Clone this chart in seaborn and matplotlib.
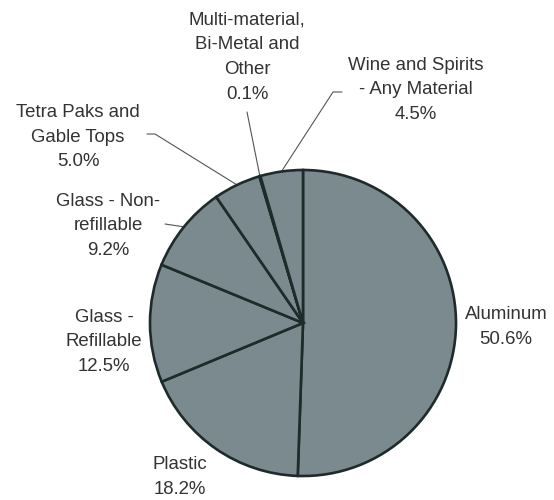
import matplotlib
matplotlib.use("Agg")
import matplotlib.pyplot as plt
import seaborn as sns
import numpy as np

# ---- data ----
categories = ["Aluminum", "Plastic", "Glass -\nRefillable", "Glass - Non-\nrefillable",
              "Tetra Paks and\nGable Tops", "Multi-material,\nBi-Metal and\nOther",
              "Wine and Spirits\n- Any Material"]
shares = [50.6, 18.2, 12.5, 9.2, 5.0, 0.1, 4.5]

# ---- layout (pixel coords, y from top) ----
W, H = 554, 500
center_px = (303, 323)
radius_px = 153
label_pos = [(506, 327), (180, 477), (104, 342), (108, 226), (78, 137), (247, 57), (416, 90)]
# leader line start points (text side); None = no leader
leader_start = [None, None, None, [(165, 224)], [(147, 134), (155, 134)],
                [(247, 112)], [(342, 92), (333, 92)]]

sns.set_style("white")
plt.rcParams['font.family'] = ['Liberation Sans', 'DejaVu Sans']

fig = plt.figure(figsize=(W / 100, H / 100), dpi=100)
ax = fig.add_axes([0, 0, 1, 1])
ax.set_aspect('equal')
ax.axis('off')

cx, cy = center_px[0], H - center_px[1]
wedges, _ = ax.pie(shares, center=(cx, cy), radius=radius_px, startangle=90,
                   counterclock=False, colors=["#7b8a8f"] * len(shares),
                   wedgeprops=dict(edgecolor="#1e2b2a", linewidth=1.9))
ax.set_xlim(0, W)
ax.set_ylim(0, H)

text_color = "#333333"
for i, (cat, val) in enumerate(zip(categories, shares)):
    x, y = label_pos[i]
    ax.text(x, H - y, f"{cat}\n{val:.1f}%", ha='center', va='center',
            multialignment='center', fontsize=13.4, color=text_color, linespacing=1.6)
    if leader_start[i] is not None:
        w = wedges[i]
        mid = np.deg2rad((w.theta1 + w.theta2) / 2)
        ex, ey = cx + radius_px * np.cos(mid), cy + radius_px * np.sin(mid)
        pts = [(px, H - py) for px, py in leader_start[i]] + [(ex, ey)]
        xs, ys = zip(*pts)
        ax.plot(xs, ys, color="#555555", linewidth=0.8, zorder=0.5)

fig.savefig("out.png", dpi=100, facecolor="white")
